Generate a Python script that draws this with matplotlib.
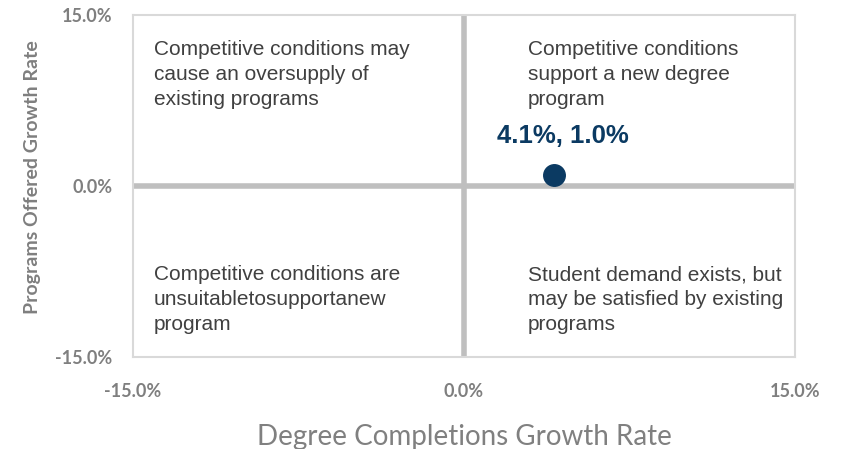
import matplotlib
matplotlib.use("Agg")
import matplotlib.pyplot as plt
from matplotlib.ticker import FuncFormatter

# Data
x_values = [4.1]
y_values = [1.0]
point_labels = ["4.1%, 1.0%"]
x_ticks = [-15.0, 0.0, 15.0]
y_ticks = [-15.0, 0.0, 15.0]
quadrant_texts = {
    "tl": "Competitive conditions may\ncause an oversupply of\nexisting programs",
    "tr": "Competitive conditions\nsupport a new degree\nprogram",
    "bl": "Competitive conditions are\nunsuitabletosupportanew\nprogram",
    "br": "Student demand exists, but\nmay be satisfied by existing\nprograms",
}

fig = plt.figure(figsize=(8.42, 4.49), dpi=100)
ax = fig.add_axes([133/842, 1-357/449, (795-133)/842, (357-15)/449])
ax.set_xlim(-15, 15)
ax.set_ylim(-15, 15)

frame_c = "#D9D9D9"
for s in ax.spines.values():
    s.set_color(frame_c)
    s.set_linewidth(1.5)

axis_c = "#BFBFBF"
ax.axhline(0, color=axis_c, lw=4, zorder=1)
ax.axvline(0, color=axis_c, lw=4, zorder=1)

ax.scatter(x_values, y_values, s=240, color="#0B3A62", zorder=3)
for xv, yv, lab in zip(x_values, y_values, point_labels):
    ax.annotate(lab, (xv, yv), xytext=(6, 28), textcoords="offset points",
                ha="center", va="center", fontsize=18.5, fontweight="bold",
                color="#0B3A62", family="Liberation Sans")

ax.set_xticks(x_ticks)
ax.set_yticks(y_ticks)
fmt = FuncFormatter(lambda v, p: f"{v:.1f}%")
ax.xaxis.set_major_formatter(fmt)
ax.yaxis.set_major_formatter(fmt)
ax.tick_params(length=0, colors="#7F7F7F", labelsize=13)
ax.tick_params(axis="x", pad=19)
ax.tick_params(axis="y", pad=15)
for lab in ax.get_xticklabels() + ax.get_yticklabels():
    lab.set_fontweight("bold")
    lab.set_family("Lato")

ax.set_xlabel("Degree Completions Growth Rate", fontsize=20, color="#808080",
              family="Lato", fontweight="normal", labelpad=17)
ax.set_ylabel("Programs Offered Growth Rate", fontsize=14, color="#7F7F7F",
              family="Lato", fontweight="bold", labelpad=10)
ax.yaxis.label.set_y(0.526)

tkw = dict(fontsize=15, color="#404040", family="Liberation Sans", va="top",
           ha="left", linespacing=1.4)
ax.text(-14.05, 12.85, quadrant_texts["tl"], **tkw)
ax.text(2.9, 12.85, quadrant_texts["tr"], **tkw)
ax.text(-14.05, -6.95, quadrant_texts["bl"], **tkw)
ax.text(2.9, -6.95, quadrant_texts["br"], **tkw)

fig.savefig("out.png", dpi=100)
